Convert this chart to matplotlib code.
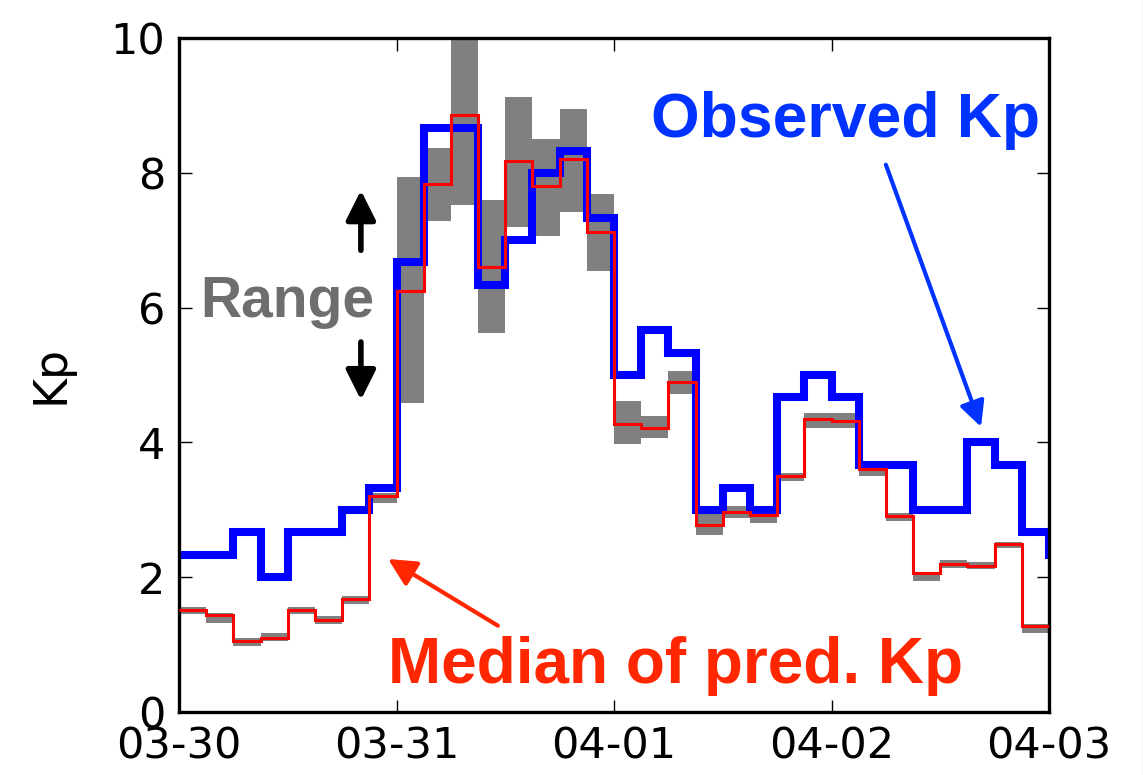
import numpy as np
import matplotlib
matplotlib.use("Agg")
import matplotlib.pyplot as plt
from matplotlib.lines import Line2D

# ---- data (3-hour bins starting 03-30 00:00; last value lies beyond the right edge) ----
observed_kp = [2.33, 2.33, 2.67, 2.0, 2.67, 2.67, 3.0, 3.33,
               6.67, 8.67, 8.67, 6.33, 7.0, 8.0, 8.33, 7.33,
               5.0, 5.67, 5.33, 3.0, 3.33, 3.0, 4.67, 5.0,
               4.67, 3.67, 3.67, 3.0, 3.0, 4.0, 3.67, 2.67, 2.33]
median_pred = [1.52, 1.44, 1.05, 1.10, 1.52, 1.37, 1.67, 3.2,
               6.24, 7.84, 8.86, 6.6, 8.17, 7.81, 8.2, 7.12,
               4.27, 4.22, 4.89, 2.78, 2.96, 2.93, 3.5, 4.35,
               4.32, 3.6, 2.91, 2.06, 2.19, 2.17, 2.49, 1.27, 1.27]
range_low = [1.45, 1.32, 0.98, 1.05, 1.45, 1.30, 1.60, 3.10,
             4.58, 7.29, 7.52, 5.62, 7.19, 7.06, 7.42, 6.54,
             3.97, 4.07, 4.72, 2.63, 2.88, 2.81, 3.43, 4.22,
             4.22, 3.50, 2.83, 1.94, 2.14, 2.12, 2.44, 1.17, 1.17]
range_high = [1.56, 1.47, 1.10, 1.17, 1.56, 1.42, 1.72, 3.25,
              7.94, 8.37, 10.5, 7.60, 9.12, 8.50, 8.95, 7.68,
              4.62, 4.39, 5.06, 2.95, 3.05, 2.97, 3.55, 4.44,
              4.44, 3.65, 2.95, 2.08, 2.25, 2.22, 2.52, 1.30, 1.30]
day_labels = ['03-30', '03-31', '04-01', '04-02', '04-03']
bins_per_day = 8

n = len(observed_kp)
edges = np.arange(n + 1)

fig = plt.figure(figsize=(11.43, 7.75), dpi=100)
ax = fig.add_axes([179 / 1143, 1 - 712 / 775, 870 / 1143, 674 / 775])

# range band
ax.stairs(range_high, edges, baseline=range_low, fill=True,
          color='#808080', lw=0, zorder=1)
# observed
ax.stairs(observed_kp, edges, color='#0000ff', lw=5.8, zorder=2,
          baseline=None)
# median
ax.stairs(median_pred, edges, color='#ff0000', lw=2.2, zorder=3,
          baseline=None)

ax.set_xlim(0, (len(day_labels) - 1) * bins_per_day)
ax.set_ylim(0, 10)
ax.set_xticks(np.arange(len(day_labels)) * bins_per_day)
ax.set_xticklabels(day_labels)
ax.set_yticks([0, 2, 4, 6, 8, 10])
ax.tick_params(direction='in', length=9, width=1, labelsize=31,
               top=True, right=True, pad=10)
for s in ax.spines.values():
    s.set_linewidth(2.4)
fig.text(51 / 1143, 1 - 374 / 775, 'Kp', fontsize=33, rotation=90,
         ha='center', va='center')

bold = dict(family=['Liberation Sans', 'DejaVu Sans'], weight='bold')

# annotations
ax.text(24.53, 8.77, 'Observed Kp', color='#0033ff', fontsize=45,
        ha='center', va='center', **bold)
ax.annotate('', xy=(29.5, 4.23), xytext=(26.0, 8.12),
            arrowprops=dict(arrowstyle='-|>', color='#0033ff', lw=3,
                            mutation_scale=38, shrinkA=0, shrinkB=0))

ax.text(18.28, 0.43, 'Median of pred. Kp', color='#ff2600', fontsize=46,
        ha='center', va='baseline', **bold)
ax.annotate('', xy=(7.69, 2.27), xytext=(11.73, 1.28),
            arrowprops=dict(arrowstyle='-|>', color='#ff2600', lw=3,
                            mutation_scale=42, shrinkA=0, shrinkB=0))

ax.text(3.99, 5.86, 'Range', color='#6e6e6e', fontsize=41,
        ha='center', va='baseline', **bold)
ax.annotate('', xy=(6.69, 7.74), xytext=(6.69, 6.85),
            arrowprops=dict(arrowstyle='-|>', color='black', lw=4,
                            mutation_scale=45, shrinkA=0, shrinkB=0))
ax.annotate('', xy=(6.69, 4.63), xytext=(6.69, 5.49),
            arrowprops=dict(arrowstyle='-|>', color='black', lw=4,
                            mutation_scale=45, shrinkA=0, shrinkB=0))

# faint screenshot border on the right edge
fig.add_artist(Line2D([1142.5 / 1143, 1142.5 / 1143], [0, 1],
                      transform=fig.transFigure, color='#d8d8d8', lw=1))

fig.savefig('out.png', dpi=100)
